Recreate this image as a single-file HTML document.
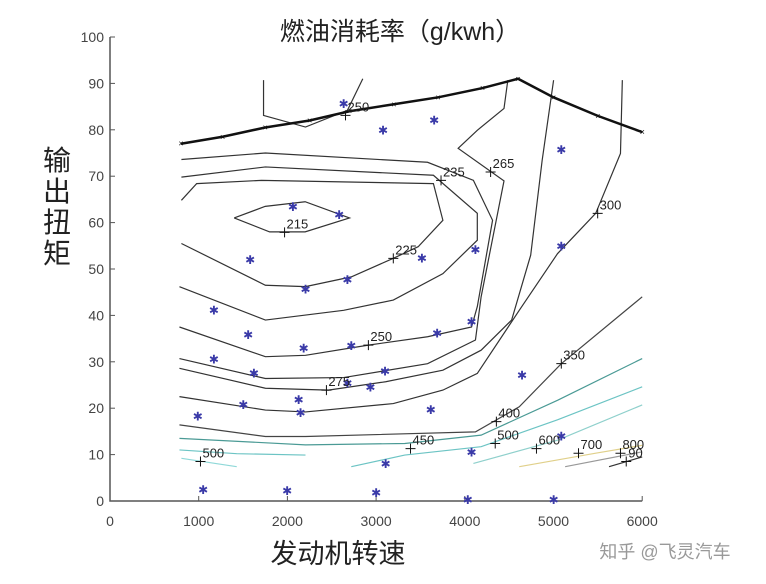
<!DOCTYPE html>
<html><head><meta charset="utf-8"><style>
body{margin:0;background:#fff;width:766px;height:584px;overflow:hidden;font-family:"Liberation Sans","Noto Sans CJK SC",sans-serif}
svg{position:absolute;left:0;top:0}
</style></head><body>
<svg id="chart" width="766" height="584">
<text x="400" y="40" font-size="25" text-anchor="middle" fill="#222" font-family="Liberation Sans, Noto Sans CJK SC, sans-serif">燃油消耗率（g/kwh）</text>
<text x="338" y="563" font-size="27" text-anchor="middle" fill="#222" font-family="Liberation Sans, Noto Sans CJK SC, sans-serif">发动机转速</text>
<g font-size="28" fill="#222" font-family="Liberation Sans, Noto Sans CJK SC, sans-serif" text-anchor="middle">
<text x="57" y="170">输</text><text x="57" y="201">出</text><text x="57" y="232">扭</text><text x="57" y="263">矩</text></g>
<text x="665" y="558" font-size="18" text-anchor="middle" fill="#999" font-family="Liberation Sans, Noto Sans CJK SC, sans-serif">知乎 @飞灵汽车</text>
<g id="plot"></g>
</svg>
<script>
const xTicks=[0,1000,2000,3000,4000,5000,6000];
const yTicks=[0,10,20,30,40,50,60,70,80,90,100];
const maxTorqueRpm=[800,1270,1750,2250,2700,3200,3700,4200,4600,5000,5500,6000];
const maxTorqueVal=[77,78.5,80.5,82,84,85.5,87,89,91,87,83,79.5];
const contourLines=[
 {lvl:"215",c:"#333",p:[[1400,61],[1750,63.5],[2200,64.5],[2700,61],[2200,58],[1800,58],[1400,61]]},
 {lvl:"225",c:"#333",p:[[805,64.8],[977,68.4],[1708,69.1],[3646,68.4],[3753,60.5],[3474,54.8],[3194,52.3],[2720,48.3],[2204,46.2],[1752,46.5],[805,55.5]]},
 {lvl:"235",c:"#333",p:[[805,69.8],[1752,72],[3646,70.2],[4141,62],[4141,56.2],[3753,49],[3194,43.3],[2634,41.1],[1752,39],[783,46.2]]},
 {lvl:"250",c:"#333",p:[[805,73.6],[1752,75],[3580,73],[4097,69.1],[4313,60.5],[4141,41.9],[4076,37.5],[3580,35.4],[2913,33.6],[2204,31.4],[1752,31.1],[783,37.5]]},
 {lvl:"265",c:"#333",p:[[783,30.7],[1752,26.4],[2634,26.6],[3580,29.6],[4120,34.7],[4184,44],[4442,69],[3925,76],[4141,79.9],[4442,84.6],[4485,90.7]]},
 {lvl:"275",c:"#333",p:[[783,28.6],[1752,24.3],[2462,23.9],[3108,25.7],[3753,28.2],[4184,32.5],[4528,39],[4743,53],[4872,73.4],[5001,90.7]]},
 {lvl:"300",c:"#333",p:[[783,22.5],[1752,19.6],[2204,19.2],[3194,21],[3753,23.9],[4141,27.5],[4614,41.1],[5045,53.3],[5476,62],[5755,74.9],[5776,90.7]]},
 {lvl:"350",c:"#444",p:[[783,16.4],[1752,13.9],[2204,13.9],[4120,14.9],[4614,20.3],[5088,29.6],[6000,44]]},
 {lvl:"400",c:"#4a9a95",p:[[783,13.5],[2204,12.1],[3323,12.4],[4184,14.2],[5045,21.7],[6000,30.7]]},
 {lvl:"450a",c:"#6cc4c4",p:[[783,11],[1429,10.2],[2204,9.9]]},
 {lvl:"500a",c:"#8fd8d8",p:[[805,9.2],[1429,7.4]]},
 {lvl:"450",c:"#6cc4c4",p:[[2720,7.4],[3323,9.9],[4184,11.7],[5045,17.5],[6000,24.6]]},
 {lvl:"500",c:"#8fd0cc",p:[[4097,8.1],[5045,13.1],[6000,20.7]]},
 {lvl:"600",c:"#e0d08a",p:[[4614,7.4],[5476,10.3],[6000,12]]},
 {lvl:"700",c:"#999",p:[[5131,7.4],[6000,10.6]]},
 {lvl:"800",c:"#333",p:[[5626,7.4],[6000,9.5]]},
 {lvl:"250top",c:"#333",p:[[1731,90.7],[1731,83.1],[2204,80.6],[2677,84.2],[2850,91]]}
];
const labelRpm=[1020,2440,2913,3194,1968,3732,4291,5498,5088,4356,4343,3388,4808,5282,5755,5820,2655];
const labelVal=[8.5,23.9,33.6,52.3,57.9,69.1,70.9,62,29.6,17.1,12.4,11.3,11.3,10.3,10.3,8.5,83.1];
const labelTxt=["500","275","250","225","215","235","265","300","350","400","500","450","600","700","800","90","250"];
const pointRpm=[2634,3078,3655,5088,2062,2583,1580,4120,3517,5088,2677,2204,1171,4076,1558,3689,2183,2720,1171,1623,3100,4645,2677,2936,1502,2127,2148,3616,990,4076,3108,5088,1050,1997,3000,4033,5002];
const pointVal=[85.6,79.9,82,75.6,63.4,61.6,51.9,54.1,52.3,54.8,47.6,45.6,41.1,38.6,35.8,36.1,32.9,33.4,30.5,27.5,27.9,27.1,25.3,24.5,20.7,21.8,19,19.6,18.2,10.4,8,13.9,2.4,2.2,1.7,0.2,0.2];

const X=v=>110+v*0.0887, Y=v=>501-v*4.64;
const g=document.getElementById('plot'), NS="http://www.w3.org/2000/svg";
function mk(t,a){const e=document.createElementNS(NS,t);for(const k in a)e.setAttribute(k,a[k]);g.appendChild(e);return e;}
let ax=mk('path',{d:`M${X(0)} ${Y(100)}V${Y(0)}H${X(6000)}`,stroke:'#555',fill:'none','stroke-width':1.5});


xTicks.forEach(t=>{
 const l=mk('line',{x1:X(t),x2:X(t),y1:Y(0),y2:Y(0)-5,stroke:'#555'});
 
 
 const s=mk('text',{x:X(t),y:526,'font-size':14,'text-anchor':'middle',fill:'#444'});s.textContent=t;
 
 
});
yTicks.forEach(t=>{
 const l=mk('line',{x1:X(0),x2:X(0)+5,y1:Y(t),y2:Y(t),stroke:'#555'});
 
 
 const s=mk('text',{x:104,y:Y(t)+5,'font-size':14,'text-anchor':'end',fill:'#444'});s.textContent=t;
 
 
});
contourLines.forEach(c=>{
 const e=mk('polyline',{points:c.p.map(q=>X(q[0])+','+Y(q[1])).join(' '),fill:'none',stroke:c.c,'stroke-width':1.2});
 
 
});
const mt=mk('polyline',{points:maxTorqueRpm.map((r,i)=>X(r)+','+Y(maxTorqueVal[i])).join(' '),fill:'none',stroke:'#111','stroke-width':2.5});


maxTorqueRpm.forEach((r,i)=>{const s=mk('text',{x:X(r),y:Y(maxTorqueVal[i])+3,'font-size':9,'text-anchor':'middle',fill:'#111'});s.textContent='×';
 
 });
pointRpm.forEach((r,i)=>{const s=mk('text',{x:X(r),y:Y(pointVal[i])+4,'font-size':12,'text-anchor':'middle',fill:'#3a3aa8'});s.textContent='✱';
 
 });
labelRpm.forEach((r,i)=>{
 const x=X(r),y=Y(labelVal[i]);
 const p=mk('path',{d:`M${x-5} ${y}H${x+5}M${x} ${y-5}V${y+5}`,stroke:'#111','stroke-width':1});
 
 
 const s=mk('text',{x:x+2,y:y-4,'font-size':13,fill:'#222'});s.textContent=labelTxt[i];
 
 
});
</script>
</body></html>
